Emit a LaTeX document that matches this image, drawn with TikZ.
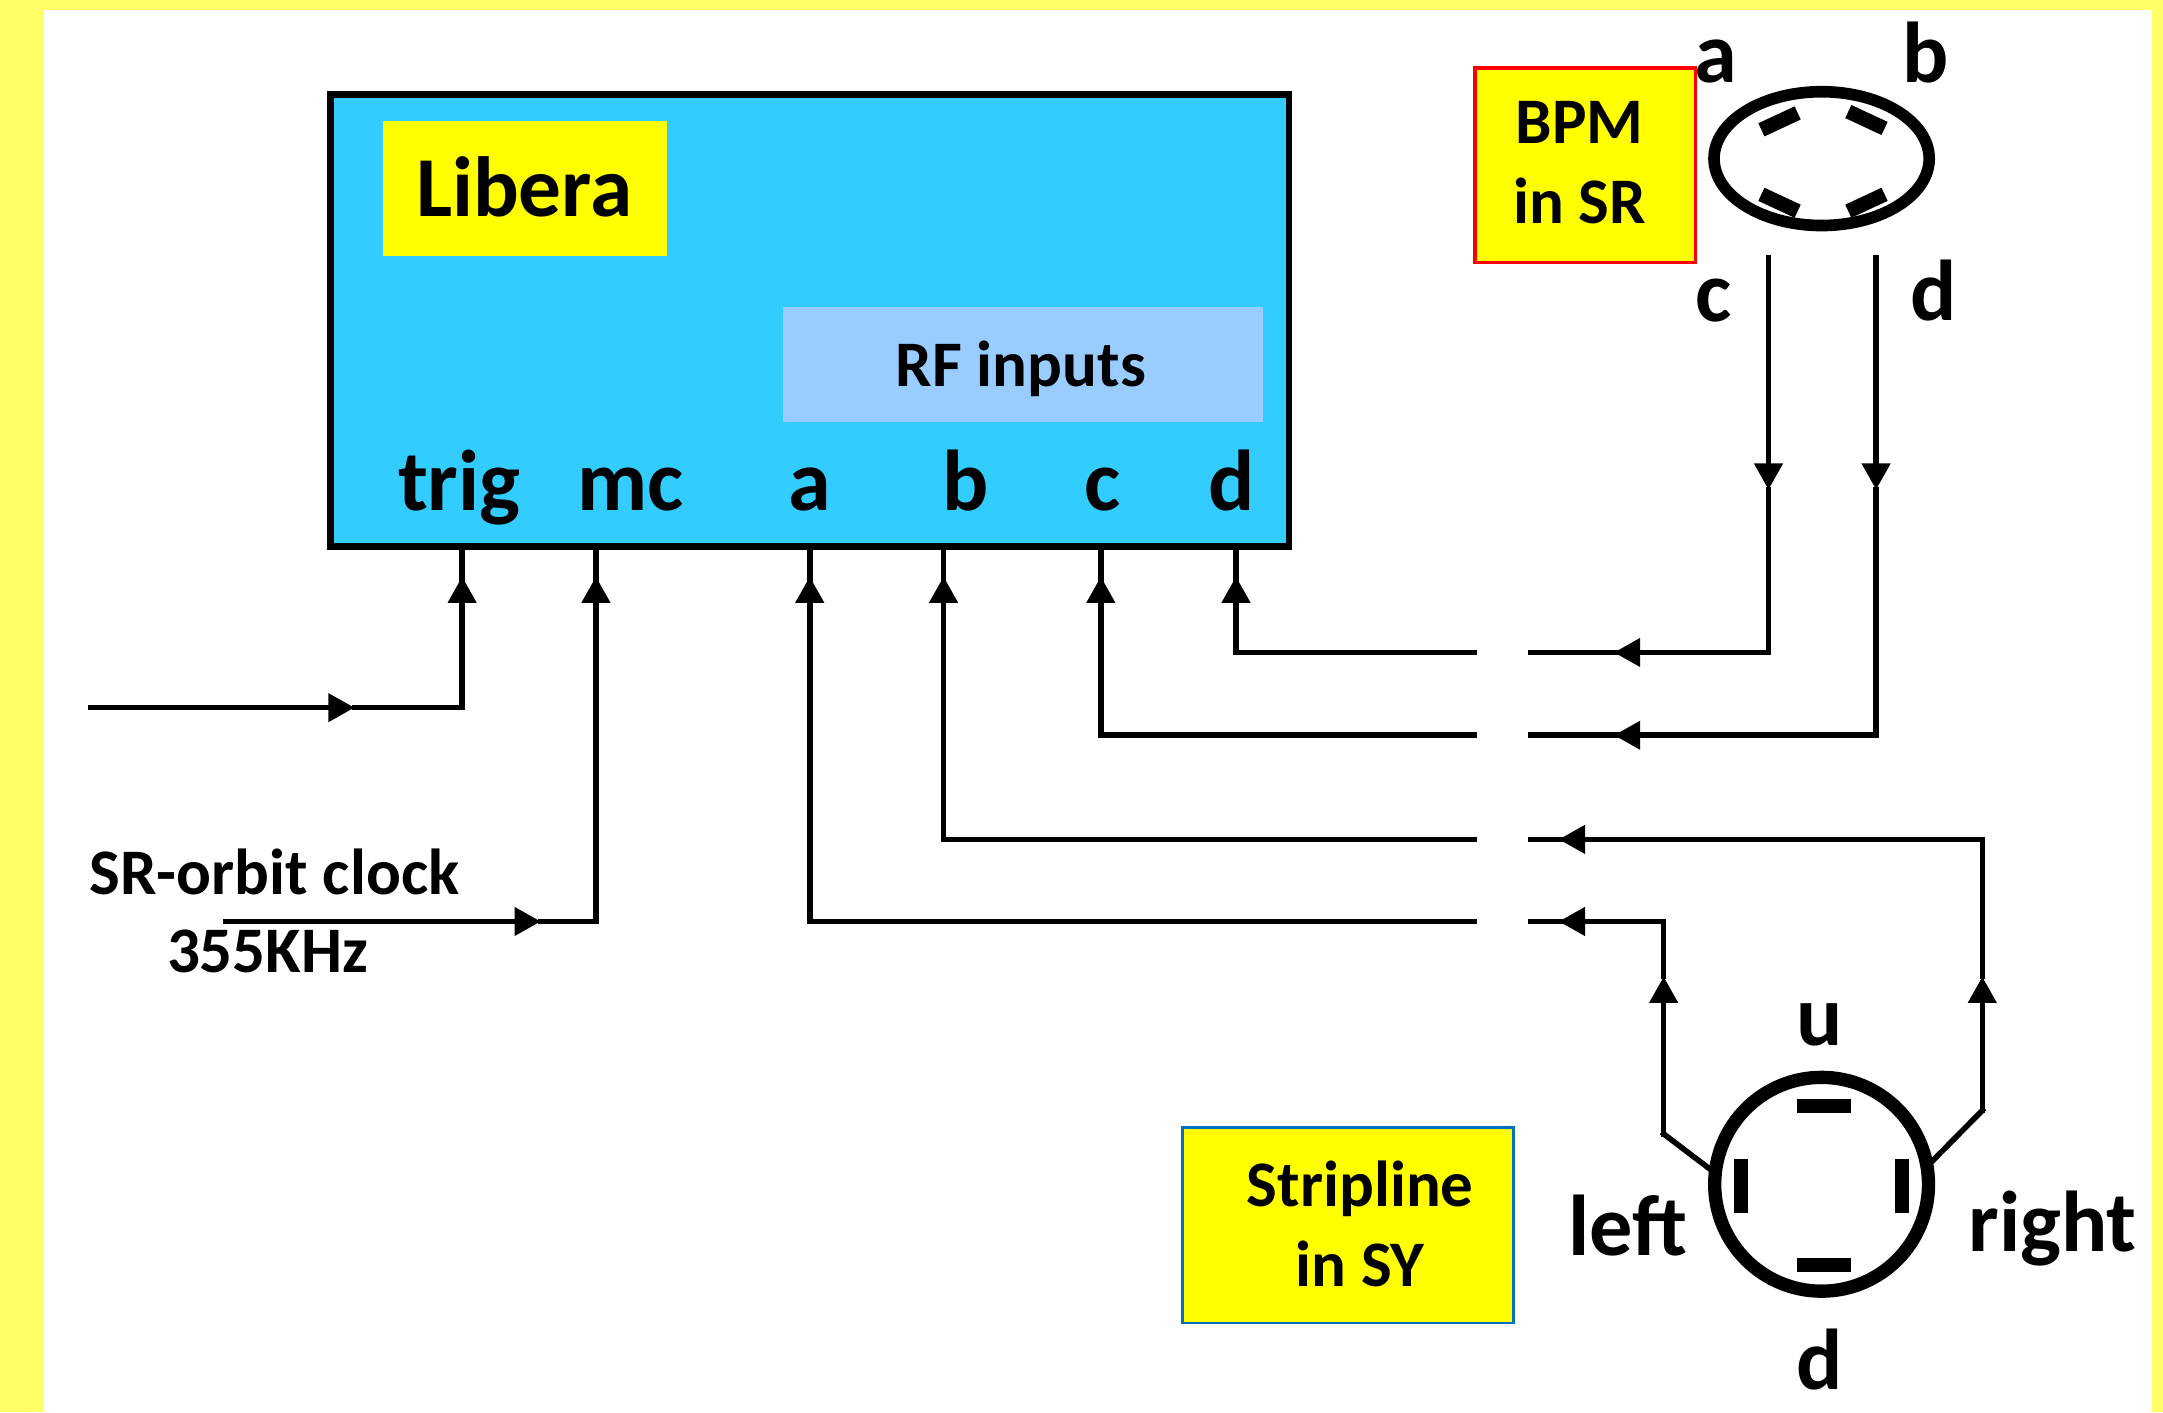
\documentclass[tikz,border=0pt]{standalone}
\usepackage{fontspec}
\setmainfont{Carlito}
\usepackage{xcolor}
\usetikzlibrary{arrows.meta, shapes.geometric}
\definecolor{pagebg}{HTML}{FFFF66}
\definecolor{tagyellow}{HTML}{FFFF00}
\definecolor{liberablue}{HTML}{33CCFF}
\definecolor{rfblue}{HTML}{99CCFF}
\definecolor{sywire}{HTML}{0070C0}

\begin{document}
\begin{tikzpicture}[>=Stealth,
  wire/.style  = {line width=1.15pt, line join=miter, line cap=rect},
  tip/.style   = {wire, -{Triangle[length=0.19cm, width=0.2cm]}},
  txt/.style   = {font=\fontsize{17.8}{20}\selectfont\bfseries, inner sep=0pt, anchor=base},
  small/.style = {font=\fontsize{13.4}{16.5}\selectfont\bfseries, inner sep=0pt, align=center},
  tag/.style   = {fill=tagyellow, inner sep=0pt, anchor=north west},
  pad/.style   = {fill=black, inner sep=0pt, minimum width=0.29cm, minimum height=0.105cm},
  bar/.style   = {fill=black, inner sep=0pt, minimum width=0.39cm, minimum height=0.10cm}
]
%% Frame
\useasboundingbox (0,0) rectangle (15.68,-10.236);
\fill[pagebg] (0,0) rectangle (15.68,-10.236);
\fill[white] (0.32,-0.07) rectangle (15.60,-10.236);

%% --- Libera box ---
\node[draw, line width=1.4pt, fill=liberablue, inner sep=0pt, anchor=north west,
      minimum width=6.95cm, minimum height=3.28cm] (libera) at (2.37,-0.66) {};
\node[tag, minimum width=2.06cm, minimum height=0.98cm] (liberatag) at (2.77,-0.87) {};
\node[font=\fontsize{17.6}{20}\selectfont\bfseries, inner sep=0pt, anchor=base] (liberatxt) at (3.80,-1.57) {Libera};
\node[fill=rfblue, inner sep=0pt, anchor=north west,
      minimum width=3.48cm, minimum height=0.83cm] (rf) at (5.67,-2.22) {};
\node[small, anchor=base] (rftxt) at (7.40,-2.80) {RF inputs};

%% --- Port labels ---
\node[txt] (ltrig) at (3.33,-3.70) {trig};
\node[txt] (lmc)   at (4.57,-3.70) {mc};
\node[txt] (la)    at (5.87,-3.70) {a};
\node[txt] (lb)    at (7.00,-3.70) {b};
\node[txt] (lc)    at (7.99,-3.70) {c};
\node[txt] (ld)    at (8.93,-3.70) {d};

%% --- Port points ---
\coordinate (ptrig) at (3.35,-3.97);
\coordinate (pmc)   at (4.32,-3.97);
\coordinate (pa)    at (5.87,-3.97);
\coordinate (pb)    at (6.84,-3.97);
\coordinate (pc)    at (7.98,-3.97);
\coordinate (pd)    at (8.96,-3.97);

%% --- Arrow tips under the ports ---
\coordinate (ttrig) at (3.35,-4.18);
\coordinate (tmc)   at (4.32,-4.18);
\coordinate (ta)    at (5.87,-4.18);
\coordinate (tb)    at (6.84,-4.18);
\coordinate (tc)    at (7.98,-4.18);
\coordinate (td)    at (8.96,-4.18);

%% --- BPM in SR ---
\node[draw=red, line width=0.7pt, tag, minimum width=1.60cm, minimum height=1.41cm] (bpm) at (10.68,-0.48) {};
\node[small] (bpmtxt) at (11.45,-1.18) {BPM\\in SR};
\node[ellipse, draw, line width=2.4pt, inner sep=0pt,
      minimum width=1.56cm, minimum height=0.97cm] (bpmring) at (13.205,-1.15) {};
\node[pad, rotate=25]  (pada) at (12.90,-0.88) {};
\node[pad, rotate=-25] (padb) at (13.53,-0.87) {};
\node[pad, rotate=-25] (padc) at (12.90,-1.47) {};
\node[pad, rotate=25]  (padd) at (13.53,-1.47) {};
\node[txt] (bpma) at (12.44,-0.60) {a};
\node[txt] (bpmb) at (13.96,-0.60) {b};
\node[txt] (bpmc) at (12.42,-2.33) {c};
\node[txt] (bpmd) at (14.02,-2.32) {d};

%% --- Stripline in SY ---
\node[draw=sywire, line width=0.6pt, tag, minimum width=2.40cm, minimum height=1.42cm] (sy) at (8.56,-8.16) {};
\node[small] (sytxt) at (9.86,-8.87) {Stripline\\in SY};
\node[circle, draw, line width=2.75pt, inner sep=0pt, minimum size=1.55cm] (syring) at (13.205,-8.585) {};
\node[bar] (padu) at (13.22,-8.02) {};
\node[bar] (padl) at (13.22,-9.17) {};
\node[bar, rotate=90] (padx) at (12.62,-8.60) {};
\node[bar, rotate=90] (pady) at (13.79,-8.60) {};
\node[txt] (syu) at (13.19,-7.58) {u};
\node[txt] (syd) at (13.19,-10.07) {d};
\node[txt] (syl) at (11.80,-9.10) {left};
\node[txt] (syr) at (14.88,-9.07) {right};

%% --- Clock labels ---
\node[small] (lclock) at (1.99,-6.32) {SR-orbit clock};
\node[small] (lfreq)  at (1.94,-6.90) {355KHz};

%% --- Trigger and clock inputs ---
\coordinate (trigin) at (0.66,-5.13);
\coordinate (trigmid) at (2.57,-5.13);
\coordinate (mcin)   at (1.64,-6.68);
\coordinate (mcmid)  at (3.92,-6.68);
\draw[tip]  (trigin) -- (trigmid);
\draw[wire] (trigmid) -| (ttrig);
\draw[tip]  (trigmid -| ttrig) -- (ttrig);
\draw[wire] (ttrig) -- (ptrig);
\draw[tip]  (mcin) -- (mcmid);
\draw[wire] (mcmid) -| (tmc);
\draw[tip]  (mcmid -| tmc) -- (tmc);
\draw[wire] (tmc) -- (pmc);

%% --- Wires near Libera ---
\coordinate (gd) at (10.69,-4.73);
\coordinate (gc) at (10.69,-5.33);
\coordinate (gb) at (10.69,-6.085);
\coordinate (ga) at (10.69,-6.68);
\draw[wire] (gd) -| (td);
\draw[tip]  (gd -| td) -- (td);
\draw[wire] (td) -- (pd);
\draw[wire] (gc) -| (tc);
\draw[tip]  (gc -| tc) -- (tc);
\draw[wire] (tc) -- (pc);
\draw[wire] (gb) -| (tb);
\draw[tip]  (gb -| tb) -- (tb);
\draw[wire] (tb) -- (pb);
\draw[wire] (ga) -| (ta);
\draw[tip]  (ga -| ta) -- (ta);
\draw[wire] (ta) -- (pa);

%% --- Wires from BPM ---
\coordinate (cout) at (12.82,-1.87);
\coordinate (dout) at (13.60,-1.87);
\coordinate (cmid) at (12.82,-3.55);
\coordinate (dmid) at (13.60,-3.55);
\coordinate (hd) at (11.10,-4.73);
\coordinate (hc) at (11.10,-5.33);
\coordinate (ad) at (11.70,-4.73);
\coordinate (ac) at (11.70,-5.33);
\draw[tip]  (cout) -- (cmid);
\draw[wire] (cmid) |- (ad);
\draw[tip]  (ad -| cmid) -- (ad);
\draw[wire] (ad) -- (hd);
\draw[tip]  (dout) -- (dmid);
\draw[wire] (dmid) |- (ac);
\draw[tip]  (ac -| dmid) -- (ac);
\draw[wire] (ac) -- (hc);

%% --- Wires from stripline ---
\coordinate (lbend) at (12.06,-8.22);
\coordinate (rbend) at (14.37,-8.05);
\coordinate (lmid) at (12.06,-7.08);
\coordinate (rmid) at (14.37,-7.08);
\coordinate (hb) at (11.10,-6.085);
\coordinate (ha) at (11.10,-6.68);
\coordinate (ab) at (11.30,-6.085);
\coordinate (aa) at (11.30,-6.68);
\draw[wire] (syring.172) -- (lbend);
\draw[tip]  (lbend) -- (lmid);
\draw[wire] (lmid) |- (aa);
\draw[tip]  (aa -| lmid) -- (aa);
\draw[wire] (aa) -- (ha);
\draw[wire] (syring.12) -- (rbend);
\draw[tip]  (rbend) -- (rmid);
\draw[wire] (rmid) |- (ab);
\draw[tip]  (ab -| rmid) -- (ab);
\draw[wire] (ab) -- (hb);
\end{tikzpicture}
\end{document}
